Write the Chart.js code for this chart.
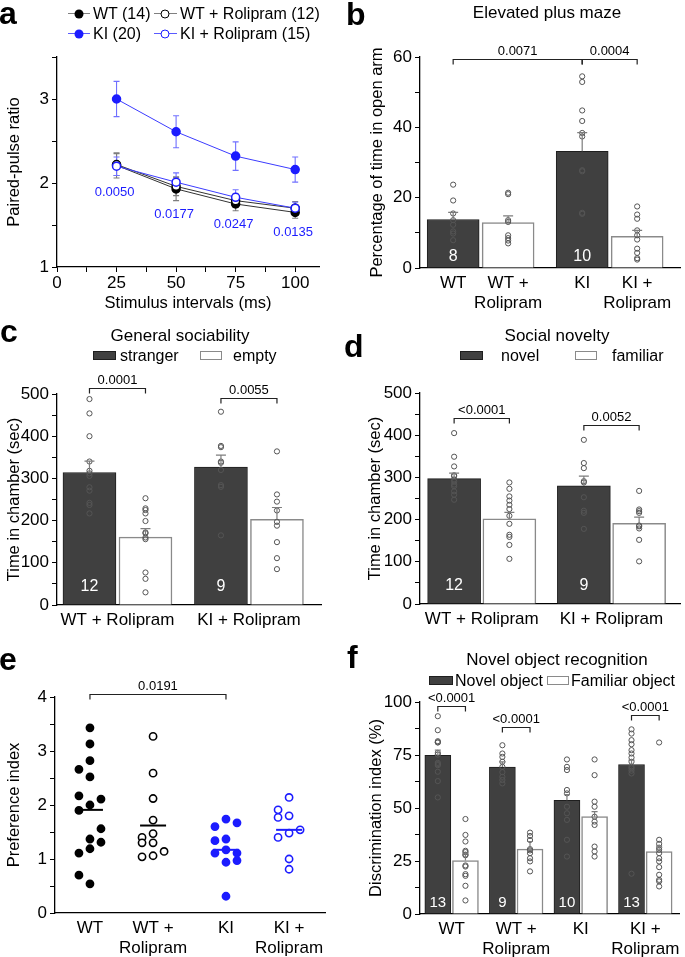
<!DOCTYPE html>
<html><head><meta charset="utf-8">
<script src="https://cdn.jsdelivr.net/npm/chart.js@4.4.1/dist/chart.umd.min.js"></script>
<style>
html,body{margin:0;padding:0;background:#fff}
body{position:relative;width:685px;height:957px;overflow:hidden;font-family:'Liberation Sans',Arial,Helvetica,sans-serif;color:#000}
canvas{position:absolute}
.t{position:absolute;white-space:nowrap;line-height:1}
.letter{font-weight:bold;font-size:32px;line-height:32px}
.ptitle{font-size:17px;transform:translate(-50%,-50%)}
.leg{font-size:16px;transform:translateY(-50%)}
.sw{position:absolute;height:9px;box-sizing:border-box}
.dark{background:#404040;border:1px solid #1e1e1e}
.white{background:#fff;border:1.5px solid #8a8a8a}
.ln{position:absolute;height:0;border-top:1.5px solid}
.mk{position:absolute;width:9px;height:9px;border-radius:50%;box-sizing:border-box;transform:translate(-50%,-50%)}
</style></head>
<body>
<canvas id="ca"></canvas><canvas id="cb"></canvas><canvas id="cc"></canvas>
<canvas id="cd"></canvas><canvas id="ce"></canvas><canvas id="cf"></canvas>

<div class="t letter" style="left:-1px;top:-3px">a</div>
<div class="t letter" style="left:346px;top:-2px">b</div>
<div class="t letter" style="left:0px;top:315px">c</div>
<div class="t letter" style="left:344px;top:330px">d</div>
<div class="t letter" style="left:-1px;top:643px">e</div>
<div class="t letter" style="left:347px;top:641px">f</div>

<!-- legend a -->
<div class="ln" style="left:68px;top:13px;width:22px;border-color:#808080"></div>
<div class="mk" style="left:79px;top:14px;background:#000"></div>
<div class="t leg" style="left:93px;top:14px">WT (14)</div>
<div class="ln" style="left:154px;top:13px;width:23px;border-color:#808080"></div>
<div class="mk" style="left:165px;top:14px;background:#fff;border:1.5px solid #000"></div>
<div class="t leg" style="left:180px;top:14px">WT + Rolipram (12)</div>
<div class="ln" style="left:68px;top:33px;width:22px;border-color:#5a5aff"></div>
<div class="mk" style="left:79px;top:34px;background:#1c1cff"></div>
<div class="t leg" style="left:93px;top:34px">KI (20)</div>
<div class="ln" style="left:154px;top:33px;width:23px;border-color:#5a5aff"></div>
<div class="mk" style="left:165px;top:34px;background:#fff;border:1.5px solid #1c1cff"></div>
<div class="t leg" style="left:180px;top:34px">KI + Rolipram (15)</div>

<div class="t ptitle" style="left:547px;top:12px">Elevated plus maze</div>

<div class="t ptitle" style="left:180px;top:335px">General sociability</div>
<div class="sw dark" style="left:93px;top:351px;width:23px"></div>
<div class="t leg" style="left:120px;top:356px">stranger</div>
<div class="sw white" style="left:200px;top:351px;width:22px"></div>
<div class="t leg" style="left:233px;top:356px">empty</div>

<div class="t ptitle" style="left:557px;top:335px">Social novelty</div>
<div class="sw dark" style="left:460px;top:351px;width:23px"></div>
<div class="t leg" style="left:501px;top:356px">novel</div>
<div class="sw white" style="left:575px;top:351px;width:22px"></div>
<div class="t leg" style="left:612px;top:356px">familiar</div>

<div class="t ptitle" style="left:557px;top:659px">Novel object recognition</div>
<div class="sw dark" style="left:429px;top:676px;width:24px"></div>
<div class="t leg" style="left:455px;top:681px">Novel object</div>
<div class="sw white" style="left:547px;top:676px;width:22px"></div>
<div class="t leg" style="left:571px;top:681px">Familiar object</div>

<script>
// ====================== DATA ======================
// (a) Paired-pulse ratio
const ppIntervals = [25, 50, 75, 100];
const ppXTicks = [0, 12.5, 25, 37.5, 50, 62.5, 75, 87.5, 100];
const ppXTickLabels = ['0', '', '25', '', '50', '', '75', '', '100'];
const ppYTicks = [1, 1.5, 2, 2.5, 3, 3.5];
const ppYTickLabels = ['1', '', '2', '', '3', ''];
const ppWT = [2.21, 1.93, 1.75, 1.65];
const ppWTSem = [0.15, 0.14, 0.08, 0.07];
const ppWTRol = [2.22, 1.96, 1.79, 1.70];
const ppWTRolSem = [0.13, 0.11, 0.08, 0.08];
const ppKI = [3.00, 2.61, 2.32, 2.16];
const ppKISem = [0.21, 0.19, 0.17, 0.15];
const ppKIRol = [2.20, 2.01, 1.83, 1.70];
const ppKIRolSem = [0.11, 0.11, 0.09, 0.07];
const ppPValues = ['0.0050', '0.0177', '0.0247', '0.0135'];

// (b) Elevated plus maze
const epmGroups = ['WT', 'KI'];
const epmBarLabels = ['WT', ['WT +', 'Rolipram'], 'KI', ['KI +', 'Rolipram']];
const epmYTicks = [0, 10, 20, 30, 40, 50, 60];
const epmYTickLabels = ['0', '', '20', '', '40', '', '60'];
const epmVehicle = [13.8, 33.2];
const epmVehicleSem = [2.0, 5.3];
const epmRolipram = [12.9, 9.0];
const epmRolipramSem = [1.9, 1.7];
const epmN = ['8', '10'];
const epmDotsVehicle = [[23.7, 19.2, 15.5, 13.6, 12.3, 10.4, 9.8, 7.9],
                        [54.5, 52.9, 44.8, 41.8, 38.4, 37.4, 27.8, 27.5, 15.7, 15.4]];
const epmDotsRolipram = [[21.4, 21.0, 13.6, 13.1, 9.3, 8.5, 7.8, 7.0],
                         [17.5, 15.2, 14.0, 10.7, 9.3, 8.1, 5.5, 4.3, 2.8, 2.4]];
const epmPValues = ['0.0071', '0.0004'];

// (c) General sociability
const socGroups = ['WT + Rolipram', 'KI + Rolipram'];
const socYTicks = [0, 50, 100, 150, 200, 250, 300, 350, 400, 450, 500];
const socYTickLabels = ['0', '', '100', '', '200', '', '300', '', '400', '', '500'];
const socStranger = [314, 327];
const socStrangerSem = [27, 28];
const socEmpty = [161, 203];
const socEmptySem = [20, 28];
const socN = ['12', '9'];
const socDotsStranger = [[488, 454, 400, 340, 318, 312, 306, 279, 271, 242, 237, 217],
                         [458, 377, 374, 340, 337, 320, 284, 280, 165]];
const socDotsEmpty = [[253, 229, 225, 217, 199, 172, 170, 160, 156, 77, 62, 30],
                      [364, 262, 245, 224, 197, 188, 149, 111, 85]];
const socPValues = ['0.0001', '0.0055'];

// (d) Social novelty
const novGroups = ['WT + Rolipram', 'KI + Rolipram'];
const novYTicks = [0, 50, 100, 150, 200, 250, 300, 350, 400, 450, 500];
const novYTickLabels = ['0', '', '100', '', '200', '', '300', '', '400', '', '500'];
const novNovel = [297, 280];
const novNovelSem = [13, 23];
const novFamiliar = [202, 191];
const novFamiliarSem = [15, 15];
const novN = ['12', '9'];
const novDotsNovel = [[405, 349, 326, 305, 303, 295, 290, 283, 279, 267, 259, 247],
                      [389, 334, 322, 291, 288, 253, 221, 216, 178]];
const novDotsFamiliar = [[288, 273, 255, 245, 235, 225, 209, 190, 164, 159, 140, 107],
                         [268, 224, 220, 216, 186, 184, 179, 152, 101]];
const novPValues = ['<0.0001', '0.0052'];

// (e) Preference index
const piLabels = ['WT', ['WT +', 'Rolipram'], 'KI', ['KI +', 'Rolipram']];
const piYTicks = [0, 0.5, 1, 1.5, 2, 2.5, 3, 3.5, 4];
const piYTickLabels = ['0', '', '1', '', '2', '', '3', '', '4'];
const piWT = [3.43, 3.13, 2.82, 2.66, 2.52, 2.17, 2.11, 2.00, 1.90, 1.56, 1.37, 1.31, 1.19, 1.11, 0.70, 0.54];
const piWTRol = [3.27, 2.59, 2.12, 1.72, 1.47, 1.40, 1.30, 1.30, 1.14, 1.06, 1.04];
const piKI = [1.74, 1.67, 1.60, 1.37, 1.34, 1.17, 1.11, 1.11, 0.97, 0.94, 0.31];
const piKIRol = [2.14, 1.91, 1.80, 1.77, 1.54, 1.48, 1.40, 1.00, 0.81];
const piMedians = [1.91, 1.62, 1.17, 1.54];
const piPValue = '0.0191';

// (f) Novel object recognition
const norLabels = ['WT', ['WT +', 'Rolipram'], 'KI', ['KI +', 'Rolipram']];
const norYTicks = [0, 12.5, 25, 37.5, 50, 62.5, 75, 87.5, 100];
const norYTickLabels = ['0', '', '25', '', '50', '', '75', '', '100'];
const norNovel = [74.8, 69.3, 53.6, 70.5];
const norNovelSem = [2.5, 2.5, 2.7, 2.1];
const norFamiliar = [25.2, 30.6, 45.9, 29.5];
const norFamiliarSem = [3.5, 3.6, 2.4, 2.6];
const norN = ['13', '9', '10', '13'];
const norDotsNovel = [[93.3, 86.7, 81.5, 81.0, 80.9, 76.0, 75.2, 71.3, 70.7, 70.2, 67.1, 62.7, 55.0],
                      [79.6, 75.7, 74.1, 71.8, 69.4, 66.9, 64.7, 63.2, 61.6],
                      [72.9, 69.4, 67.9, 58.5, 56.9, 50.6, 47.5, 44.4, 35.0, 27.1],
                      [87.1, 85.1, 82.0, 80.1, 77.3, 75.7, 73.8, 71.8, 69.4, 68.7, 67.6, 66.3, 19.0]];
const norDotsFamiliar = [[44.8, 37.3, 34.2, 29.8, 29.2, 28.0, 27.7, 22.9, 22.4, 18.8, 18.0, 13.3, 6.4],
                         [38.4, 36.8, 34.9, 30.6, 30.0, 28.7, 26.3, 24.8, 20.1],
                         [72.9, 65.5, 53.0, 50.6, 45.9, 43.6, 42.0, 31.8, 29.5, 27.1],
                         [80.9, 35.0, 33.1, 31.3, 30.3, 28.7, 26.3, 24.8, 22.1, 18.5, 16.1, 15.4, 13.0]];
const norPValues = ['<0.0001', '<0.0001', null, '<0.0001'];

// ====================== LAYOUT / STYLE ======================
// beeswarm columns for panel e (-1 left, 0 centre, 1 right)
const piWTSlot = [0, 0, 0, -1, 0, -1, 1, 0, -1, 1, 0, 1, 0, -1, -1, 0];
const piWTRolSlot = [0, 0, 0, 0, 0, -1, -1, 0, 1, 0, -1];
const piKISlot = [0, 1, -1, 0, -1, 0, -1, 1, 1, 0, 0];
const piKIRolSlot = [0, -1, 0, -1, 1, 0, -1, 0, 0];

const FONT = "'Liberation Sans', Arial, Helvetica, sans-serif";
const DARK = '#404040', DARK_EDGE = '#1e1e1e', WHITE_EDGE = '#8a8a8a';
const DOT = '#555555', ERR = '#7d7d7d', BLUE = '#1c1cff', BLUE_LINE = '#3b3bff', BLUE_ERR = '#7070ff';

Chart.defaults.font.family = FONT;
Chart.defaults.color = '#000';
Chart.defaults.animation = false;
Chart.defaults.responsive = false;
Chart.defaults.events = [];
Chart.defaults.plugins.legend.display = false;
Chart.defaults.plugins.tooltip.enabled = false;

function setupCanvas(id, box) {
  const cv = document.getElementById(id);
  cv.width = box.w; cv.height = box.h;
  cv.style.left = box.l + 'px'; cv.style.top = box.t + 'px';
  cv.style.width = box.w + 'px'; cv.style.height = box.h + 'px';
  return cv;
}
function padFor(box, area) {
  return { top: area.t - box.t, right: box.l + box.w - area.r, left: 0, bottom: 0 };
}
function yAxis(o) {
  return {
    type: 'linear', position: 'left', min: o.min, max: o.max,
    afterFit: s => { s.width = o.width; },
    afterBuildTicks: s => { s.ticks = o.ticks.map(v => ({ value: v })); },
    ticks: { autoSkip: false, padding: 3, font: { size: 17 }, color: '#000', callback: (v, i) => o.labels[i] },
    grid: { drawOnChartArea: false, drawTicks: true, tickLength: 5, color: '#000', lineWidth: 1 },
    border: { display: true, color: '#000', width: 1.3 },
    title: { display: true, text: o.title, font: { size: 16.5 }, color: '#000', padding: { top: o.titlePad, bottom: 0 } }
  };
}
function xCatAxis(o) {
  return {
    type: 'linear', position: 'bottom', min: o.min, max: o.max, offset: false,
    afterFit: s => { s.height = o.height; },
    afterBuildTicks: s => { s.ticks = o.ticks.map(v => ({ value: v })); },
    ticks: { autoSkip: false, maxRotation: 0, minRotation: 0, padding: 5, font: { size: 17 }, color: '#000', callback: (v, i) => o.labels[i] },
    grid: { display: false, drawTicks: false, drawOnChartArea: false },
    border: { display: true, color: '#000', width: 1.3 }
  };
}
const sx = (c, v) => c.scales.x.getPixelForValue(v);
const sy = (c, v) => c.scales.y.getPixelForValue(v);

function upErr(c, x, mean, sem, cap, color) {
  const ctx = c.ctx, px = sx(c, x), y0 = sy(c, mean), y1 = sy(c, mean + sem);
  ctx.save(); ctx.strokeStyle = color; ctx.lineWidth = 1.2;
  ctx.beginPath(); ctx.moveTo(px, y0); ctx.lineTo(px, y1);
  ctx.moveTo(px - cap, y1); ctx.lineTo(px + cap, y1); ctx.stroke(); ctx.restore();
}
function bothErr(c, x, mean, sem, cap, color) {
  const ctx = c.ctx, px = sx(c, x), y0 = sy(c, mean - sem), y1 = sy(c, mean + sem);
  ctx.save(); ctx.strokeStyle = color; ctx.lineWidth = 1.1;
  ctx.beginPath(); ctx.moveTo(px, y0); ctx.lineTo(px, y1);
  ctx.moveTo(px - cap, y1); ctx.lineTo(px + cap, y1);
  ctx.moveTo(px - cap, y0); ctx.lineTo(px + cap, y0); ctx.stroke(); ctx.restore();
}
function bracket(c, x1, x2, y, text) {
  const ctx = c.ctx, p1 = sx(c, x1), p2 = sx(c, x2), py = Math.round(sy(c, y)) + 0.5;
  ctx.save(); ctx.strokeStyle = '#222'; ctx.lineWidth = 1.2;
  ctx.beginPath(); ctx.moveTo(p1, py + 5); ctx.lineTo(p1, py); ctx.lineTo(p2, py); ctx.lineTo(p2, py + 5); ctx.stroke();
  ctx.fillStyle = '#000'; ctx.font = '13px ' + FONT; ctx.textAlign = 'center'; ctx.textBaseline = 'alphabetic';
  ctx.fillText(text, (p1 + p2) / 2, py - 5);
  ctx.restore();
}
function nLabel(c, x, text, lift, size) {
  const ctx = c.ctx;
  ctx.save(); ctx.fillStyle = '#fff'; ctx.font = size + 'px ' + FONT; ctx.textAlign = 'center'; ctx.textBaseline = 'middle';
  ctx.fillText(text, sx(c, x), c.chartArea.bottom - lift); ctx.restore();
}
function dotSet(points) {
  return { type: 'scatter', data: points, order: 1, pointRadius: 2.6, pointBorderWidth: 1,
           pointBorderColor: DOT, borderColor: DOT, pointBackgroundColor: 'rgba(0,0,0,0)', backgroundColor: 'rgba(0,0,0,0)' };
}

// ====================== (a) ======================
(function () {
  const box = { l: 0, t: 0, w: 340, h: 315 }, area = { l: 57, t: 57, r: 319, b: 267 };
  const cv = setupCanvas('ca', box);
  const mk = (label, vals, line, edge, fill, order) => ({
    label, data: ppIntervals.map((x, i) => ({ x, y: vals[i] })), order,
    borderColor: line, borderWidth: 1, tension: 0, showLine: true,
    pointRadius: 4, pointBorderColor: edge, pointBackgroundColor: fill, pointBorderWidth: 1.5
  });
  new Chart(cv, {
    type: 'line',
    data: { datasets: [
      mk('KI + Rolipram (15)', ppKIRol, BLUE_LINE, BLUE, '#fff', 1),
      mk('WT + Rolipram (12)', ppWTRol, '#333', '#000', '#fff', 2),
      mk('WT (14)', ppWT, '#333', '#000', '#000', 3),
      mk('KI (20)', ppKI, BLUE_LINE, BLUE, BLUE, 4)
    ] },
    options: {
      layout: { padding: padFor(box, area) },
      scales: {
        x: { type: 'linear', position: 'bottom', min: 0, max: 110,
             afterFit: s => { s.height = box.t + box.h - area.b; },
             afterBuildTicks: s => { s.ticks = ppXTicks.map(v => ({ value: v })); },
             ticks: { autoSkip: false, maxRotation: 0, padding: 1, font: { size: 17 }, color: '#000', callback: (v, i) => ppXTickLabels[i] },
             grid: { drawOnChartArea: false, drawTicks: true, tickLength: 5, color: '#000' },
             border: { color: '#000', width: 1.3 },
             title: { display: true, text: 'Stimulus intervals (ms)', font: { size: 16.5 }, color: '#000', padding: { top: 0, bottom: 2 } } },
        y: yAxis({ min: 1, max: 3.5, width: area.l - box.l, ticks: ppYTicks, labels: ppYTickLabels, title: 'Paired-pulse ratio', titlePad: 5 })
      }
    },
    plugins: [{ id: 'ppAnnot',
      beforeDatasetsDraw(c) {
        ppIntervals.forEach((x, i) => {
          bothErr(c, x, ppWT[i], ppWTSem[i], 3, ERR);
          bothErr(c, x, ppWTRol[i], ppWTRolSem[i], 3, ERR);
          bothErr(c, x, ppKI[i], ppKISem[i], 3, BLUE_ERR);
          bothErr(c, x, ppKIRol[i], ppKIRolSem[i], 3, BLUE_ERR);
        });
      },
      afterDatasetsDraw(c) {
        const ctx = c.ctx; ctx.save();
        ctx.fillStyle = BLUE; ctx.font = '13px ' + FONT; ctx.textAlign = 'center'; ctx.textBaseline = 'middle';
        ppIntervals.forEach((x, i) => {
          const low = Math.min(ppWT[i] - ppWTSem[i], ppWTRol[i] - ppWTRolSem[i], ppKIRol[i] - ppKIRolSem[i]);
          ctx.fillText(ppPValues[i], sx(c, x) - 2, sy(c, low) + 14);
        });
        ctx.restore();
      } }]
  });
})();

// ====================== generic paired-bar panel ======================
function pairedBarPanel(o) {
  const cv = setupCanvas(o.id, o.box);
  const pos = (g, k) => g + 1 + (k ? o.pair : -o.pair);
  const bars = [];
  o.groupsA.forEach((_, i) => {
    bars.push({ x: pos(i, 0), y: o.valsA[i], sem: o.semA[i], dark: true });
    bars.push({ x: pos(i, 1), y: o.valsB[i], sem: o.semB[i], dark: false });
  });
  const dots = [];
  o.dotsA.forEach((arr, i) => arr.forEach(v => dots.push({ x: pos(i, 0), y: v })));
  o.dotsB.forEach((arr, i) => arr.forEach(v => dots.push({ x: pos(i, 1), y: v })));
  const ticks = o.tickPerBar ? bars.map(b => b.x) : o.groupsA.map((_, i) => i + 1);
  new Chart(cv, {
    type: 'bar',
    data: { datasets: [
      { type: 'bar', data: bars.map(b => ({ x: b.x, y: b.y })), order: 2, barThickness: o.barW,
        backgroundColor: bars.map(b => b.dark ? DARK : '#fff'),
        borderColor: bars.map(b => b.dark ? DARK_EDGE : WHITE_EDGE),
        borderWidth: bars.map(b => b.dark ? 1 : 1.5) },
      dotSet(dots)
    ] },
    options: {
      layout: { padding: padFor(o.box, o.area) },
      scales: {
        x: xCatAxis({ min: o.xmin, max: o.xmax, height: o.box.t + o.box.h - o.area.b, ticks, labels: o.xLabels }),
        y: yAxis({ min: 0, max: o.ymax, width: o.area.l - o.box.l, ticks: o.yTicks, labels: o.yLabels, title: o.yTitle, titlePad: o.titlePad })
      }
    },
    plugins: [{ id: 'barAnnot', afterDatasetsDraw(c) {
      bars.forEach(b => upErr(c, b.x, b.y, b.sem, o.cap, ERR));
      o.nLabels.forEach((t, i) => nLabel(c, pos(i, 0), t, o.nLift, o.nSize));
      o.brackets.forEach(br => bracket(c, br.x1, br.x2, br.y, br.text));
    } }]
  });
  return pos;
}

// ====================== (b) ======================
(function () {
  const PAIR = 0.213;
  const pos = (g, k) => g + 1 + (k ? PAIR : -PAIR);
  pairedBarPanel({
    id: 'cb', box: { l: 340, t: 0, w: 345, h: 315 }, area: { l: 420, t: 57, r: 683, b: 268 },
    pair: PAIR, barW: 52, xmin: 0.53, xmax: 2.545, tickPerBar: true, xLabels: epmBarLabels,
    groupsA: epmGroups, valsA: epmVehicle, semA: epmVehicleSem, valsB: epmRolipram, semB: epmRolipramSem,
    dotsA: epmDotsVehicle, dotsB: epmDotsRolipram,
    ymax: 60, yTicks: epmYTicks, yLabels: epmYTickLabels, yTitle: 'Percentage of time in open arm', titlePad: 28,
    cap: 5, nLabels: epmN, nLift: 11, nSize: 16,
    brackets: [ { x1: pos(0, 0), x2: pos(1, 0), y: 59.5, text: epmPValues[0] },
                { x1: pos(1, 0), x2: pos(1, 1), y: 59.5, text: epmPValues[1] } ]
  });
})();

// ====================== (c) ======================
(function () {
  const PAIR = 0.213;
  const pos = (g, k) => g + 1 + (k ? PAIR : -PAIR);
  pairedBarPanel({
    id: 'cc', box: { l: 0, t: 315, w: 340, h: 330 }, area: { l: 57, t: 394, r: 321, b: 605 },
    pair: PAIR, barW: 53, xmin: 0.54, xmax: 2.548, tickPerBar: false, xLabels: socGroups,
    groupsA: socGroups, valsA: socStranger, semA: socStrangerSem, valsB: socEmpty, semB: socEmptySem,
    dotsA: socDotsStranger, dotsB: socDotsEmpty,
    ymax: 500, yTicks: socYTicks, yLabels: socYTickLabels, yTitle: 'Time in chamber (sec)', titlePad: 5,
    cap: 5, nLabels: socN, nLift: 18, nSize: 16,
    brackets: [ { x1: pos(0, 0), x2: pos(0, 1), y: 515, text: socPValues[0] },
                { x1: pos(1, 0), x2: pos(1, 1), y: 491, text: socPValues[1] } ]
  });
})();

// ====================== (d) ======================
(function () {
  const PAIR = 0.213;
  const pos = (g, k) => g + 1 + (k ? PAIR : -PAIR);
  pairedBarPanel({
    id: 'cd', box: { l: 340, t: 315, w: 345, h: 330 }, area: { l: 420, t: 393, r: 683, b: 604 },
    pair: PAIR, barW: 53, xmin: 0.524, xmax: 2.528, tickPerBar: false, xLabels: novGroups,
    groupsA: novGroups, valsA: novNovel, semA: novNovelSem, valsB: novFamiliar, semB: novFamiliarSem,
    dotsA: novDotsNovel, dotsB: novDotsFamiliar,
    ymax: 500, yTicks: novYTicks, yLabels: novYTickLabels, yTitle: 'Time in chamber (sec)', titlePad: 26,
    cap: 5, nLabels: novN, nLift: 18, nSize: 16,
    brackets: [ { x1: pos(0, 0), x2: pos(0, 1), y: 441, text: novPValues[0] },
                { x1: pos(1, 0), x2: pos(1, 1), y: 425, text: novPValues[1] } ]
  });
})();

// ====================== (f) ======================
(function () {
  const PAIR = 0.214;
  const pos = (g, k) => g + 1 + (k ? PAIR : -PAIR);
  const levels = [98.0, 88.2, null, 94.0];
  const brackets = [];
  norPValues.forEach((p, i) => { if (p) brackets.push({ x1: pos(i, 0), x2: pos(i, 1), y: levels[i], text: p }); });
  pairedBarPanel({
    id: 'cf', box: { l: 340, t: 645, w: 345, h: 312 }, area: { l: 420, t: 702, r: 683, b: 914 },
    pair: PAIR, barW: 26, xmin: 0.51, xmax: 4.536, tickPerBar: false, xLabels: norLabels,
    groupsA: norLabels, valsA: norNovel, semA: norNovelSem, valsB: norFamiliar, semB: norFamiliarSem,
    dotsA: norDotsNovel, dotsB: norDotsFamiliar,
    ymax: 100, yTicks: norYTicks, yLabels: norYTickLabels, yTitle: 'Discrimination index (%)', titlePad: 27,
    cap: 3, nLabels: norN, nLift: 11, nSize: 15,
    brackets
  });
})();

// ====================== (e) ======================
(function () {
  const box = { l: 0, t: 645, w: 340, h: 312 }, area = { l: 55, t: 697, r: 325, b: 913 };
  const cv = setupCanvas('ce', box);
  const PAIR = 0.232, SLOT = 0.081;
  const gx = [1 - PAIR, 1 + PAIR, 2 - PAIR, 2 + PAIR];
  const pts = (vals, slots, g) => vals.map((v, i) => ({ x: gx[g] + slots[i] * SLOT, y: v }));
  const set = (data, edge, fill) => ({ data, pointRadius: 3.6, pointBorderWidth: 1.6, pointBorderColor: edge,
                                       pointBackgroundColor: fill, borderColor: edge, backgroundColor: fill });
  const medColors = ['#000', '#000', BLUE, BLUE];
  new Chart(cv, {
    type: 'scatter',
    data: { datasets: [
      set(pts(piWT, piWTSlot, 0), '#000', '#000'),
      set(pts(piWTRol, piWTRolSlot, 1), '#000', '#fff'),
      set(pts(piKI, piKISlot, 2), BLUE, BLUE),
      set(pts(piKIRol, piKIRolSlot, 3), BLUE, '#fff')
    ] },
    options: {
      layout: { padding: padFor(box, area) },
      scales: {
        x: xCatAxis({ min: 0.511, max: 2.496, height: box.t + box.h - area.b, ticks: gx, labels: piLabels }),
        y: yAxis({ min: 0, max: 4, width: area.l - box.l, ticks: piYTicks, labels: piYTickLabels, title: 'Preference index', titlePad: 5 })
      }
    },
    plugins: [{ id: 'piAnnot', afterDatasetsDraw(c) {
      const ctx = c.ctx;
      piMedians.forEach((m, i) => {
        const px = sx(c, gx[i]), py = sy(c, m);
        ctx.save(); ctx.strokeStyle = medColors[i]; ctx.lineWidth = 2;
        ctx.beginPath(); ctx.moveTo(px - 13, py); ctx.lineTo(px + 13, py); ctx.stroke(); ctx.restore();
      });
      bracket(c, gx[0], gx[2], 4.05, piPValue);
    } }]
  });
})();
</script>
</body></html>
